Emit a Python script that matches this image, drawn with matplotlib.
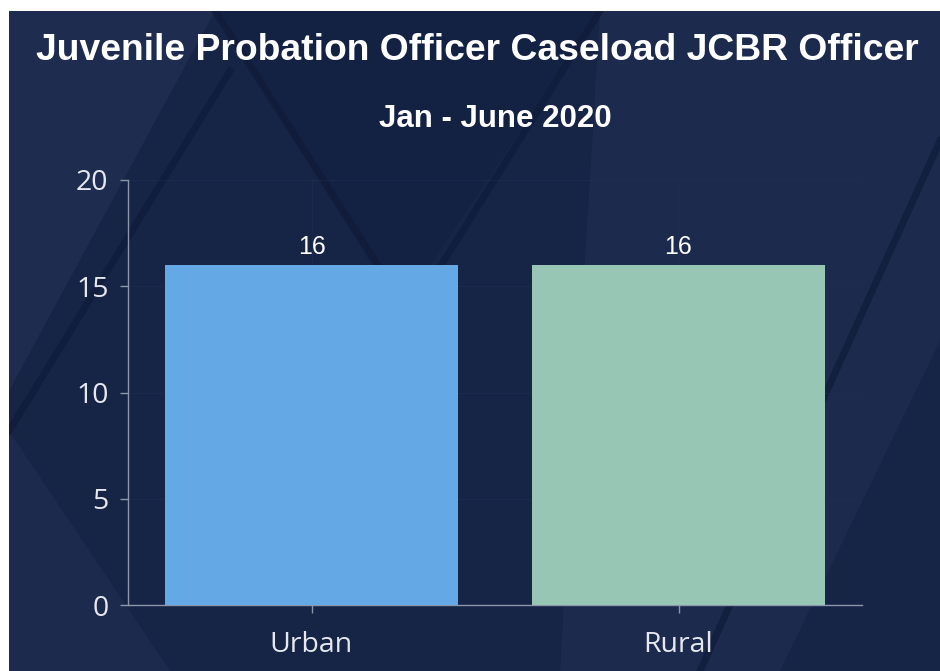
import matplotlib
matplotlib.use("Agg")
import matplotlib.pyplot as plt
from matplotlib.patches import Polygon, Rectangle

categories = ["Urban", "Rural"]
values = [16, 16]
bar_colors = ["#64a9e6", "#98c6b4"]
title = "Juvenile Probation Officer Caseload JCBR Officer"
subtitle = "Jan - June 2020"
yticks = [0, 5, 10, 15, 20]

W, H = 940, 671
fig = plt.figure(figsize=(W / 100, H / 100), dpi=100)
fig.patch.set_facecolor("white")

# background panel (white strip top and left)
bg = fig.add_axes([9 / W, 0, 1 - 9 / W, 1 - 11 / H])
bg.set_xlim(9, W)
bg.set_ylim(0, H - 11)
bg.invert_yaxis()
bg.axis("off")
bg.add_patch(Rectangle((9, 0), W, H, color="#162446", zorder=0))
polys = [
    ([(9, 0), (215, 0), (9, 380)], "#1d2c4f"),
    ([(600, 0), (940, 0), (940, 330), (780, 660), (560, 660)], "#1b2a4d"),
    ([(9, 420), (170, 660), (9, 660)], "#1b2a4d"),
    ([(215, 0), (600, 0), (400, 300)], "#132142"),
]
for pts, c in polys:
    bg.add_patch(Polygon(pts, closed=True, color=c, zorder=1, lw=0))
for (x0, y0, x1, y1) in [(215, 0, 420, 320), (600, 0, 400, 320), (940, 130, 700, 660), (9, 420, 230, 60)]:
    bg.plot([x0, x1], [y0, y1], color="#0f1b38", lw=5, alpha=0.7, zorder=2)

fig.text(477 / W, 1 - 51 / H, title, ha="center", va="center", color="white",
         fontsize=26.8, fontweight="bold", family="Liberation Sans")
fig.text(495 / W, 1 - 119 / H, subtitle, ha="center", va="center", color="white",
         fontsize=22.5, fontweight="bold", family="Liberation Sans")

ax = fig.add_axes([128 / W, 1 - 605 / H, (862 - 128) / W, (605 - 180) / H])
ax.patch.set_alpha(0)
x = range(len(categories))
bars = ax.bar(x, values, width=0.8, color=bar_colors, zorder=3)
ax.set_xlim(-0.5, 1.5)
ax.set_ylim(0, 20)
ax.set_yticks(yticks)
ax.set_xticks(list(x))
ax.set_xticklabels(categories)
for s in ["top", "right"]:
    ax.spines[s].set_visible(False)
for s in ["left", "bottom"]:
    ax.spines[s].set_color("#8c95aa")
    ax.spines[s].set_linewidth(1)
ax.tick_params(colors="#8c95aa", labelcolor="#e6e8ee", length=6, width=1)
ax.tick_params(axis="y", labelsize=20.5, pad=8)
ax.tick_params(axis="x", labelsize=20.5, pad=13)
for lab in ax.get_xticklabels() + ax.get_yticklabels():
    lab.set_family("Open Sans")
ax.grid(True, color="#22335a", lw=0.6, alpha=0.4, zorder=0)
ax.set_axisbelow(True)

for b, v in zip(bars, values):
    ax.text(b.get_x() + b.get_width() / 2, v + 0.3, f"{v}", ha="center", va="bottom",
            color="white", fontsize=18, family="Liberation Sans")

fig.savefig("out.png", dpi=100, facecolor=fig.get_facecolor())
